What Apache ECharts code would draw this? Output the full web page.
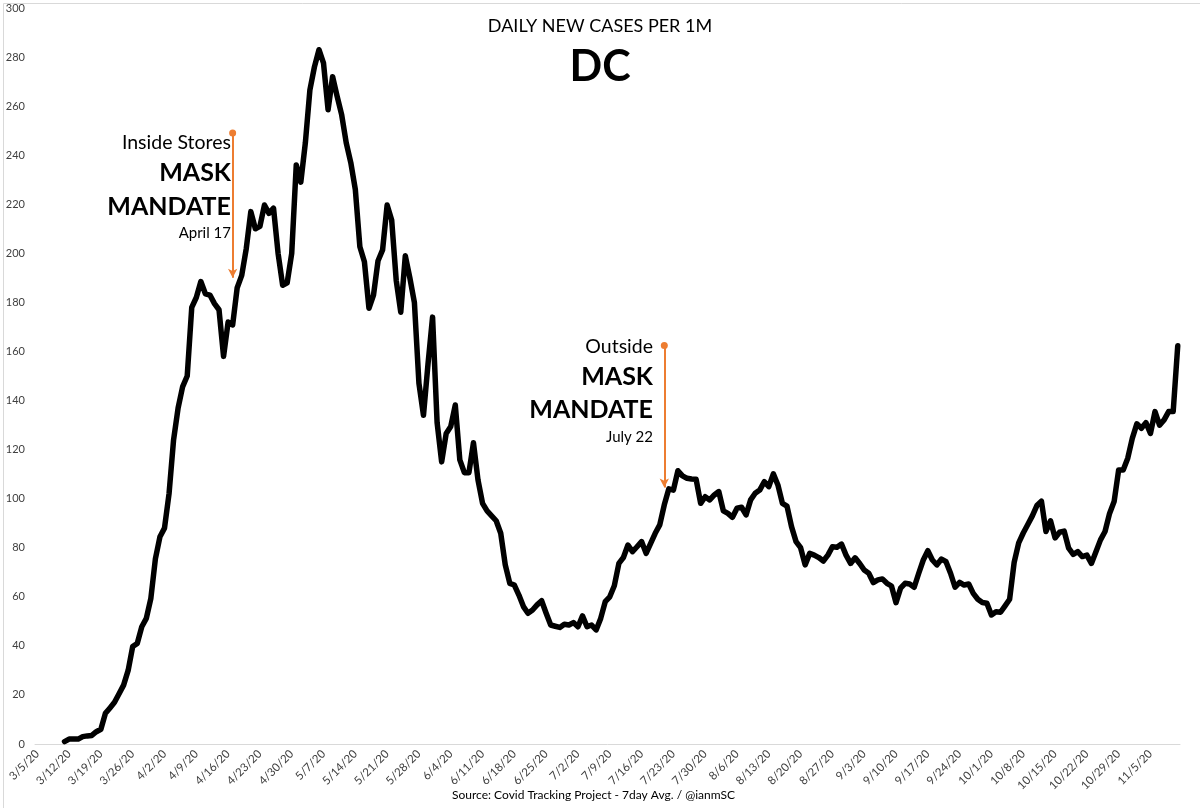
<!DOCTYPE html>
<html>
<head>
<meta charset="utf-8">
<title>DC daily new cases per 1M</title>
<script src="https://cdn.jsdelivr.net/npm/echarts@6/dist/echarts.min.js"></script>
<style>
  html, body { margin: 0; padding: 0; background: #fff; }
  #chart { width: 1200px; height: 808px; }
</style>
</head>
<body>
<div id="chart"></div>
<script>
// days from 3/5/20 to 11/11/20, one per category
var startDay = new Date(2020, 2, 5);
var dayCount = 252;
var dates = [];
for (var d = 0; d < dayCount; d++) {
    var t = new Date(startDay.getTime() + d * 86400000);
    dates.push((t.getMonth() + 1) + '/' + t.getDate() + '/20');
}

// 7 day avg of new cases per 1M (3/5 .. 11/11)
var casesMar = [null, null, null, null, null, null, 1, 2, 2, 2, 3, 3.3, 3.5, 5, 6, 12.5, 14.7, 17, 20.5, 24, 30, 39.7, 41, 47.8, 51.2, 59.4, 75.5];
var casesApr = [84.5, 88, 102, 124, 137, 145.7, 150, 178, 182, 188.5, 183.5, 183, 179.5, 177, 158, 172, 170.8, 186, 191, 202, 217, 210, 211, 219.7, 216.3, 218.4, 200, 187, 188, 200];
var casesMay = [236, 229, 245, 266.6, 276, 283, 277.5, 258.5, 272, 264, 256.4, 245, 237, 226, 202.7, 196.6, 177.6, 183, 197, 201.4, 219.7, 213.6, 189, 176, 199, 190, 180, 147, 134, 155, 174];
var casesJun = [131, 115, 126.6, 129.4, 138.2, 115.8, 110.6, 110.6, 122.8, 107.6, 98.1, 95, 93, 91, 85.9, 73, 65.5, 64.8, 60.7, 56, 53.3, 54.6, 56.7, 58.4, 53.3, 48.5, 48, 47.5, 48.8, 48.5];
var casesJul = [49.5, 47.8, 52.2, 47.8, 48.5, 46.5, 51.2, 58, 60, 64.5, 73.6, 76, 81.1, 78.4, 80.4, 82.5, 77.7, 81.8, 85.9, 89.3, 97.5, 104, 103.5, 111.4, 109.3, 108.3, 108, 107.9, 98.1, 100.8, 99.5];
var casesAug = [101.5, 102.9, 95, 94, 92.4, 96.1, 96.5, 93.4, 99.5, 102.2, 103.5, 106.9, 104.9, 110.1, 105.6, 98.1, 97, 88.6, 82.5, 80, 73, 77.7, 77, 76, 74.6, 77, 80.4, 80.2, 81.5, 77, 73.6];
var casesSep = [75.9, 73.6, 70.9, 69.6, 65.8, 66.9, 67.3, 65.5, 64.4, 57.6, 63.5, 65.5, 65.2, 63.9, 69.6, 75, 78.8, 75, 73, 75.4, 74.3, 69.6, 63.9, 65.9, 64.8, 65.2, 61.4, 59, 57.7, 57.4];
var casesOct = [52.6, 53.9, 53.7, 56.3, 59, 74, 82, 86, 89.5, 93, 97.2, 99, 86.6, 91, 84, 86.3, 86.8, 79.8, 77.3, 78.4, 76.4, 77, 73.6, 78.4, 83.2, 86.6, 94, 98.8, 111.7, 111.7, 116.5];
var casesNov = [124.6, 130.5, 128.7, 131, 126.6, 135.5, 130, 132.1, 135.5, 135.5, 162.3];
var cases = [].concat(casesMar, casesApr, casesMay, casesJun, casesJul, casesAug, casesSep, casesOct, casesNov);

// mask mandate arrows: [date, top, bottom]
var insideArrow = ['4/17/20', 249, 190];
var outsideArrow = ['7/21/20', 162.4, 104.6];

var font = 'Lato, "Open Sans", sans-serif';
var orange = '#ED7D31';

var myChart = echarts.init(document.getElementById('chart'));

var option = {
    backgroundColor: '#fff',
    animation: false,
    title: [{
        text: 'DAILY NEW CASES PER 1M',
        left: 'center',
        top: 12,
        textStyle: { fontFamily: font, fontSize: 18, fontWeight: 'normal', color: '#000' }
    }, {
        text: 'DC',
        left: 'center',
        top: 41,
        textStyle: { fontFamily: font, fontSize: 43, fontWeight: 'bold', color: '#000' }
    }],
    grid: { left: 35, right: 20, top: 8, bottom: 64, containLabel: false },
    xAxis: {
        type: 'category',
        data: dates,
        boundaryGap: true,
        axisLine: { lineStyle: { color: '#d9d9d9', width: 1 } },
        axisTick: { show: false },
        axisLabel: {
            interval: 6,
            rotate: 45,
            margin: 8,
            fontFamily: font,
            fontSize: 11.5,
            color: '#404040'
        },
        splitLine: { show: false }
    },
    yAxis: {
        type: 'value',
        min: 0,
        max: 300,
        interval: 20,
        axisLine: { show: false },
        axisTick: { show: false },
        splitLine: { show: false },
        axisLabel: { margin: 10, fontFamily: font, fontSize: 11, color: '#404040' }
    },
    series: [{
        name: 'DC',
        type: 'line',
        data: cases,
        showSymbol: false,
        connectNulls: false,
        lineStyle: { color: '#000', width: 5.5, cap: 'round', join: 'round' },
        itemStyle: { color: '#000' },
        markLine: {
            silent: true,
            symbol: ['circle', 'arrow'],
            symbolSize: [7, 9],
            label: { show: false },
            lineStyle: { color: orange, width: 2, type: 'solid' },
            data: [
                [{ coord: [insideArrow[0], insideArrow[1]] }, { coord: [insideArrow[0], insideArrow[2]] }],
                [{ coord: [outsideArrow[0], outsideArrow[1]] }, { coord: [outsideArrow[0], outsideArrow[2]] }]
            ]
        }
    }],
    graphic: [
        // april note
        { type: 'text', right: 1200 - 231, top: 133, style: { text: 'Inside Stores', font: '19.5px ' + font, fill: '#000' } },
        { type: 'text', right: 1200 - 231, top: 160, style: { text: 'MASK', font: 'bold 25px ' + font, fill: '#000' } },
        { type: 'text', right: 1200 - 231, top: 194, style: { text: 'MANDATE', font: 'bold 25px ' + font, fill: '#000' } },
        { type: 'text', right: 1200 - 231, top: 226, style: { text: 'April 17', font: '15px ' + font, fill: '#000' } },
        // july note
        { type: 'text', right: 1200 - 653, top: 337, style: { text: 'Outside', font: '19.5px ' + font, fill: '#000' } },
        { type: 'text', right: 1200 - 653, top: 364, style: { text: 'MASK', font: 'bold 25px ' + font, fill: '#000' } },
        { type: 'text', right: 1200 - 653, top: 397, style: { text: 'MANDATE', font: 'bold 25px ' + font, fill: '#000' } },
        { type: 'text', right: 1200 - 653, top: 430, style: { text: 'July 22', font: '15px ' + font, fill: '#000' } },
        // source line
        { type: 'text', left: 452, top: 789, style: { text: 'Source: Covid Tracking Project - 7day Avg. / @ianmSC', font: '12px ' + font, fill: '#000' } },
        // thin frame round the picture
        { type: 'rect', left: 1, top: 1, shape: { width: 1197, height: 805 }, style: { fill: 'none', stroke: '#d9d9d9', lineWidth: 1 }, silent: true }
    ]
};
myChart.setOption(option);

window.addEventListener('resize', function () {
    myChart.resize();
});
</script>
</body>
</html>
